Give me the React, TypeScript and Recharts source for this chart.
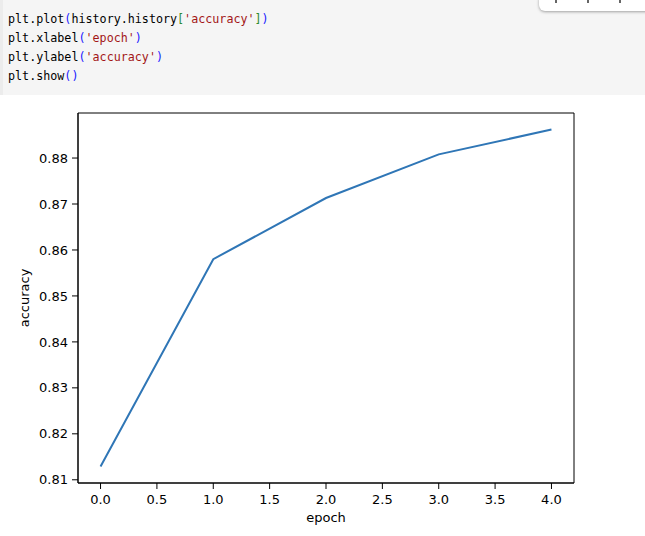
import React from 'react';
import { LineChart, Line, XAxis, YAxis, ReferenceArea } from 'recharts';

// history.history['accuracy']
const epochs = [0, 1, 2, 3, 4];
const accuracy = [0.8129, 0.858, 0.8713, 0.8808, 0.8862];
const xTicks = [0, 0.5, 1, 1.5, 2, 2.5, 3, 3.5, 4];
const yTicks = [0.81, 0.82, 0.83, 0.84, 0.85, 0.86, 0.87, 0.88];
const xDomain = [-0.2, 4.2];
const yDomain = [0.8093, 0.8898];

const data = epochs.map((e, i) => ({ epoch: e, accuracy: accuracy[i] }));

const C = { paren: '#1a1aff', str: '#a31515', brack: '#2e8b2e', txt: '#000' };

const codeLines: [string, string][][] = [
  [['plt.plot', C.txt], ['(', C.paren], ['history.history', C.txt], ['[', C.brack], ["'accuracy'", C.str], [']', C.brack], [')', C.paren]],
  [['plt.xlabel', C.txt], ['(', C.paren], ["'epoch'", C.str], [')', C.paren]],
  [['plt.ylabel', C.txt], ['(', C.paren], ["'accuracy'", C.str], [')', C.paren]],
  [['plt.show', C.txt], ['()', C.paren]],
];

const tickFont = { fontFamily: 'DejaVu Sans', fontSize: 13, fill: '#000' };

export default function App() {
  return (
    <div style={{ position: 'absolute', left: 0, top: 0, width: 645, height: 536, background: '#fff', overflow: 'hidden' }}>
      {/* notebook code cell */}
      <div style={{ position: 'absolute', left: 0, top: 0, width: 645, height: 95, background: '#f5f5f5', borderLeft: '3px solid #ececec', boxSizing: 'border-box' }}>
        <div style={{ position: 'absolute', left: 5, top: 9, fontFamily: 'DejaVu Sans Mono', fontSize: 13, lineHeight: '19px', transform: 'scaleX(0.9)', transformOrigin: 'left top', whiteSpace: 'pre' }}>
          {codeLines.map((line, i) => (
            <div key={i}>
              {line.map(([t, c], j) => (
                <span key={j} style={{ color: c }}>{t}</span>
              ))}
            </div>
          ))}
        </div>
      </div>
      {/* cell toolbar peeking in */}
      <div style={{ position: 'absolute', left: 539, top: -6, width: 120, height: 17, background: '#fff', borderRadius: 6, boxShadow: '0 1px 3px rgba(0,0,0,0.35)' }}>
        {[16, 48, 80].map((x) => (
          <div key={x} style={{ position: 'absolute', left: x, top: 6, width: 2, height: 3, background: '#666' }} />
        ))}
      </div>

      <div style={{ position: 'absolute', left: 0, top: 96 }}>
        <LineChart width={645} height={440} data={data} margin={{ top: 17, right: 71, bottom: 0, left: 0 }}>
          <XAxis
            dataKey="epoch"
            type="number"
            domain={xDomain}
            allowDataOverflow
            ticks={xTicks}
            tickFormatter={(v: number) => v.toFixed(1)}
            tick={tickFont}
            tickSize={6}
            tickMargin={6}
            height={53}
            axisLine={{ stroke: '#000' }}
            tickLine={{ stroke: '#000' }}
            label={{ value: 'epoch', position: 'insideBottom', offset: 14, style: { fontFamily: 'DejaVu Sans', fontSize: 13, fill: '#000' } }}
          />
          <YAxis
            type="number"
            domain={yDomain}
            allowDataOverflow
            ticks={yTicks}
            tickFormatter={(v: number) => v.toFixed(2)}
            tick={tickFont}
            tickSize={6}
            tickMargin={4}
            width={78}
            axisLine={{ stroke: '#000' }}
            tickLine={{ stroke: '#000' }}
            label={{
              content: () => (
                <text x={29} y={202} transform="rotate(-90, 29, 202)" textAnchor="middle" fontFamily="DejaVu Sans" fontSize={13} fill="#000">
                  accuracy
                </text>
              ),
            }}
          />
          {/* axes frame */}
          <ReferenceArea x1={xDomain[0]} x2={xDomain[1]} y1={yDomain[0]} y2={yDomain[1]} fill="none" stroke="#000" strokeWidth={1} ifOverflow="extendDomain" />
          <Line type="linear" dataKey="accuracy" stroke="#2f76b6" strokeWidth={2} dot={false} isAnimationActive={false} />
        </LineChart>
      </div>
    </div>
  );
}
